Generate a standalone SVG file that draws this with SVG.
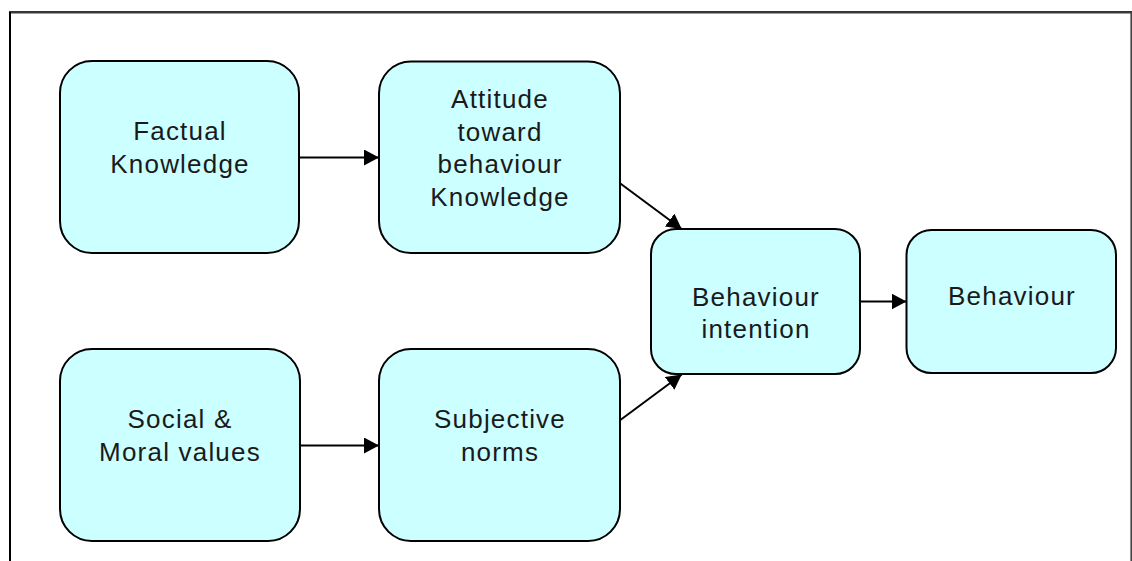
<svg xmlns="http://www.w3.org/2000/svg" width="1132" height="561" viewBox="0 0 1132 561">
  <style>
    .box { fill: #ccffff; stroke: #000; stroke-width: 2; }
    .lbl { font-family: "Liberation Sans", Arial, sans-serif; font-size: 26px; letter-spacing: 1.2px; fill: #1a1a1a; text-anchor: middle; }
    .conn { stroke: #000; stroke-width: 2; fill: none; marker-end: url(#arrow); }
  </style>
  <defs>
    <marker id="arrow" markerUnits="userSpaceOnUse" markerWidth="16" markerHeight="16" refX="15" refY="8" orient="auto">
      <path d="M0,0 L15,8 L0,16 Z" fill="#000"/>
    </marker>
  </defs>

  <rect width="1132" height="561" fill="#fff"/>

  <!-- frame -->
  <g id="frame">
    <line x1="9" y1="11.5" x2="1132" y2="11.5" stroke="#800080" stroke-width="1"/>
    <line x1="9" y1="12.8" x2="1132" y2="12.8" stroke="#3a3a3a" stroke-width="1.6"/>
    <line x1="10" y1="12" x2="10" y2="561" stroke="#000" stroke-width="2"/>
    <line x1="1131.2" y1="12" x2="1131.2" y2="561" stroke="#444" stroke-width="1.6"/>
  </g>

  <!-- connectors -->
  <g id="connectors">
    <line class="conn" x1="299" y1="157.5" x2="379" y2="157.5"/>
    <line class="conn" x1="300" y1="445.5" x2="379" y2="445.5"/>
    <line class="conn" x1="619" y1="182.5" x2="681.7" y2="229"/>
    <line class="conn" x1="619" y1="421" x2="681.7" y2="374.5"/>
    <line class="conn" x1="860" y1="301.5" x2="906.5" y2="301.5"/>
  </g>

  <g id="factual-knowledge">
    <rect class="box" x="60" y="61" width="239" height="192" rx="32" ry="32"/>
    <text class="lbl" x="180" y="140">Factual</text>
    <text class="lbl" x="180" y="173">Knowledge</text>
  </g>

  <g id="attitude">
    <rect class="box" x="379" y="61.5" width="241" height="191.5" rx="32" ry="32"/>
    <text class="lbl" x="500" y="108">Attitude</text>
    <text class="lbl" x="500" y="140.5">toward</text>
    <text class="lbl" x="500" y="173">behaviour</text>
    <text class="lbl" x="500" y="205.5">Knowledge</text>
  </g>

  <g id="behaviour-intention">
    <rect class="box" x="651" y="229" width="209" height="145" rx="25" ry="25"/>
    <text class="lbl" x="756" y="305.5">Behaviour</text>
    <text class="lbl" x="756" y="338">intention</text>
  </g>

  <g id="behaviour">
    <rect class="box" x="906.5" y="230" width="209.5" height="143" rx="25" ry="25"/>
    <text class="lbl" x="1012" y="305">Behaviour</text>
  </g>

  <g id="social-moral-values">
    <rect class="box" x="60" y="349" width="240" height="192" rx="32" ry="32"/>
    <text class="lbl" x="180" y="427.5">Social &amp;</text>
    <text class="lbl" x="180" y="461">Moral values</text>
  </g>

  <g id="subjective-norms">
    <rect class="box" x="379" y="349" width="241" height="192" rx="32" ry="32"/>
    <text class="lbl" x="500" y="427.5">Subjective</text>
    <text class="lbl" x="500" y="461">norms</text>
  </g>
</svg>
